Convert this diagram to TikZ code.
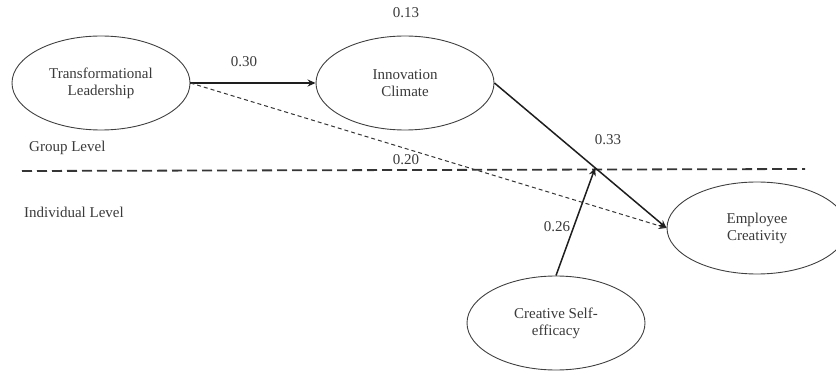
\documentclass[tikz,border=0pt]{standalone}
\usepackage{fontspec}
\setmainfont{Liberation Serif}
\usetikzlibrary{shapes.geometric,arrows.meta,calc}
\definecolor{txt}{HTML}{3A3A3A}
\definecolor{ln}{HTML}{1E1E1E}
\tikzset{
  construct/.style={ellipse, draw=ln!85, line width=0.9pt, minimum width=178pt, minimum height=94pt, inner sep=0pt, align=center, text=txt, font=\fontsize{15}{17}\selectfont},
  lbl/.style={text=txt, font=\fontsize{15}{17}\selectfont, inner sep=0pt},
  path/.style={draw=ln, line width=1.5pt, -{Stealth[length=8pt,width=7pt]}},
  dpath/.style={draw=ln!90, line width=1pt, dash pattern=on 4pt off 3pt, -{Stealth[length=8pt,width=7pt]}},
  levelline/.style={draw=ln!90, line width=1.8pt, dash pattern=on 10pt off 5pt}
}
\begin{document}
\begin{tikzpicture}[x=1pt,y=-1pt]
\useasboundingbox (0,0) rectangle (836,374);
\node[construct] (tl) at (101,83) {Transformational\\Leadership};
\node[construct] (ic) at (405,83) {Innovation\\Climate};
\node[construct, minimum width=180pt, minimum height=92pt] (ec) at (757,228) {Employee\\Creativity};
\node[construct] (cse) at (556,323) {Creative Self-\\efficacy};

\coordinate (gl0) at (22,171);
\coordinate (gl1) at (805,169);
\draw[levelline] (gl0) -- (gl1);

\node[lbl, anchor=west] (grp) at (29,148) {Group Level};
\node[lbl, anchor=west] (ind) at (24,212) {Individual Level};

\draw[path] (tl) -- (ic);
\draw[dpath] (tl.east) -- (ec.west);
\draw[path] (ic.east) -- (ec.west);
\coordinate (m) at ($(ic.east)!0.585!(ec.west)$);
\draw[path] (cse.north) -- (m);

\node[lbl] (l30) at (244,62) {0.30};
\node[lbl] (l13) at (406,13) {0.13};
\node[lbl] (l20) at (406,160) {0.20};
\node[lbl] (l33) at (608,140) {0.33};
\node[lbl] (l26) at (557,227) {0.26};
\end{tikzpicture}
\end{document}
